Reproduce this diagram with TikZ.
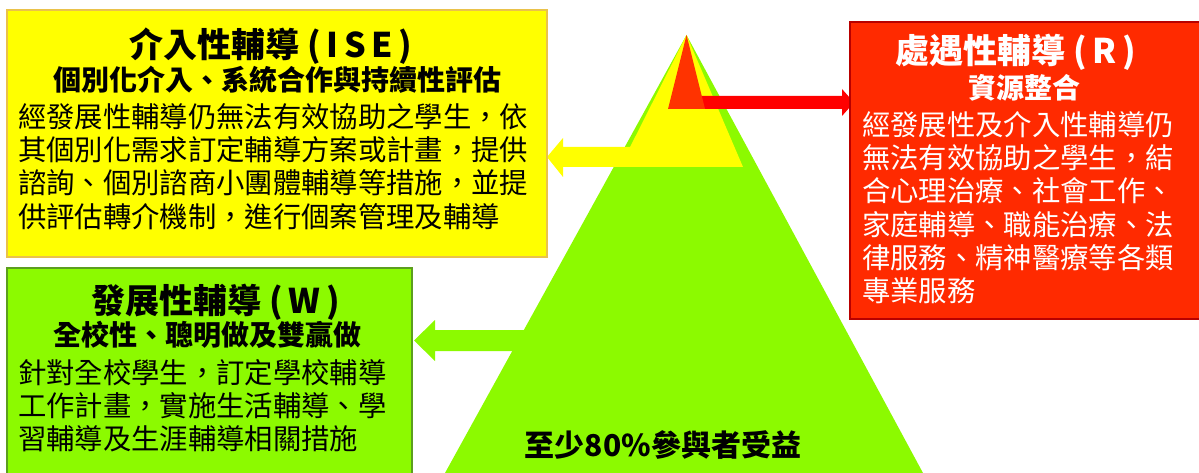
\documentclass[tikz,border=0pt]{standalone}
\usepackage{fontspec}
\setmainfont{Noto Sans CJK TC}
\definecolor{lime}{HTML}{8CFA00}
\definecolor{limeb}{HTML}{5C9E1E}
\definecolor{yel}{HTML}{FFFF00}
\definecolor{yelb}{HTML}{EAC24A}
\definecolor{redbox}{HTML}{FF2A00}
\definecolor{redb}{HTML}{B80000}
\definecolor{redtri}{HTML}{FF3300}
\definecolor{redarr}{HTML}{FF0000}
\begin{document}
\begin{tikzpicture}[x=1pt,y=-1pt,
  every node/.style={inner sep=0pt,outer sep=0pt},
  panel/.style={rectangle,anchor=north west,line width=1.2pt},
  ttl/.style={font=\fontsize{34}{40}\selectfont\bfseries,anchor=base},
  sub/.style={font=\fontsize{28}{33}\selectfont\bfseries,anchor=base},
  bodyl/.style={font=\fontsize{28.35}{33}\selectfont,anchor=base west}]
\useasboundingbox (0,0) rectangle (1199,473);
\clip (0,0) rectangle (1199,473);
% pyramid
\fill[lime] (686.5,35) -- (445,473) -- (923,473) -- cycle;
\fill[yel] (686.5,35) -- (620,167) -- (743,167) -- cycle;
% arrows
\fill[yel] (547,157) -- (563,138) -- (563,147) -- (650,147) -- (650,167) -- (563,167) -- (563,177) -- cycle;
\fill[lime] (414,340.5) -- (435,320) -- (435,330) -- (560,330) -- (560,351) -- (435,351) -- (435,361) -- cycle;
\fill[redarr] (695,96) -- (842,96) -- (842,89) -- (854,102.5) -- (842,116) -- (842,109) -- (695,109) -- cycle;
\fill[redtri] (686.5,35) -- (668,109) -- (705,109) -- cycle;
% panels
\node[panel,draw=yelb,fill=yel,minimum width=540,minimum height=247] (ise) at (7,10) {};
\node[panel,draw=limeb,fill=lime,minimum width=405,minimum height=230] (w) at (7,268) {};
\node[panel,draw=redb,fill=redbox,minimum width=360,minimum height=297] (r) at (850,22) {};
% yellow text
\node[ttl] (iset) at (271,58) {介入性輔導 (\,I\,S\,E\,)};
\node[sub] (iss) at (277,91) {個別化介入、系統合作與持續性評估};
\foreach \t [count=\i] in {經發展性輔導仍無法有效協助之學生，依,其個別化需求訂定輔導方案或計畫，提供,諮詢、個別諮商小團體輔導等措施，並提,供評估轉介機制，進行個案管理及輔導}
  \node[bodyl] (isb\i) at (18,128+33*\i-33) {\t};
% red text
\node[ttl,text=white] (rt) at (1016,64) {處遇性輔導 (\,R\,)};
\node[sub,text=white] (rs) at (1024,99) {資源整合};
\foreach \t [count=\i] in {經發展性及介入性輔導仍,無法有效協助之學生，結,合心理治療、社會工作、,家庭輔導、職能治療、法,律服務、精神醫療等各類,專業服務}
  \node[bodyl,text=white] (rb\i) at (862,136+33*\i-33) {\t};
% green text
\node[ttl] (wt) at (216,313) {發展性輔導 (\,W\,)};
\node[sub] (ws) at (207,345) {全校性、聰明做及雙贏做};
\foreach \t [count=\i] in {針對全校學生，訂定學校輔導,工作計畫，實施生活輔導、學,習輔導及生涯輔導相關措施}
  \node[bodyl] (wb\i) at (18,383+33*\i-33) {\t};
% pyramid label
\node[sub,font=\fontsize{30}{34}\selectfont\bfseries] (pl) at (663,456) {至少80\%參與者受益};
\end{tikzpicture}
\end{document}
